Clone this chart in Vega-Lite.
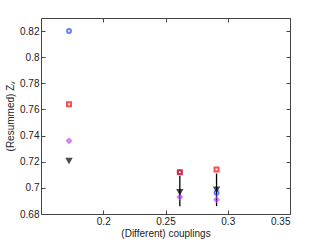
{
  "$schema": "https://vega.github.io/schema/vega-lite/v6.json",
  "width": 249,
  "height": 196,
  "autosize": "none",
  "padding": {"left": 41, "top": 18, "right": 31, "bottom": 28},
  "config": {
    "view": {"stroke": null},
    "font": "Liberation Sans",
    "axis": {
      "grid": false,
      "domainColor": "#444",
      "tickColor": "#444",
      "tickSize": -4,
      "labelColor": "#222",
      "labelFontSize": 10,
      "titleFontSize": 10,
      "titleFontWeight": "normal",
      "titleColor": "#222"
    }
  },
  "datasets": {
    "pts": [
      {"x": 0.1725, "y": 0.820, "s": "a"},
      {"x": 0.1725, "y": 0.764, "s": "b"},
      {"x": 0.1725, "y": 0.736, "s": "c"},
      {"x": 0.1725, "y": 0.721, "s": "d"},
      {"x": 0.2615, "y": 0.712, "s": "a"},
      {"x": 0.2615, "y": 0.712, "s": "b"},
      {"x": 0.2615, "y": 0.693, "s": "c"},
      {"x": 0.2615, "y": 0.697, "s": "d"},
      {"x": 0.291, "y": 0.6963, "s": "a"},
      {"x": 0.291, "y": 0.714, "s": "b"},
      {"x": 0.291, "y": 0.691, "s": "c"},
      {"x": 0.291, "y": 0.699, "s": "d"}
    ],
    "err": [
      {"x": 0.2615, "lo": 0.686, "hi": 0.709},
      {"x": 0.291, "lo": 0.686, "hi": 0.711}
    ]
  },
  "resolve": {"axis": {"x": "independent", "y": "independent"}},
  "layer": [
    {
      "data": {"name": "err"},
      "mark": {"type": "rule", "color": "black", "strokeWidth": 1.3},
      "encoding": {
        "x": {"field": "x", "type": "quantitative", "scale": {"domain": [0.15, 0.35], "nice": false},
              "axis": {"orient": "bottom", "values": [0.2, 0.25, 0.3, 0.35], "format": "~g", "title": "(Different) couplings", "labelPadding": 6, "titlePadding": 2}},
        "y": {"field": "lo", "type": "quantitative", "scale": {"domain": [0.68, 0.83], "nice": false, "zero": false},
              "axis": {"orient": "left", "values": [0.68, 0.7, 0.72, 0.74, 0.76, 0.78, 0.8, 0.82], "format": "~g", "title": "(Resummed) Zᵥ", "labelPadding": 6, "titlePadding": 4}},
        "y2": {"field": "hi"}
      }
    },
    {
      "data": {"name": "pts"},
      "mark": {"type": "point", "filled": false, "strokeWidth": 2, "size": 16},
      "encoding": {
        "x": {"field": "x", "type": "quantitative", "axis": {"orient": "top", "values": [0.2, 0.25, 0.3, 0.35], "labels": false, "title": null}},
        "y": {"field": "y", "type": "quantitative", "axis": {"orient": "right", "values": [0.68, 0.7, 0.72, 0.74, 0.76, 0.78, 0.8, 0.82], "labels": false, "title": null}},
        "shape": {"field": "s", "type": "nominal", "legend": null,
                  "scale": {"domain": ["a", "b", "c", "d"], "range": ["circle", "square", "diamond", "triangle-down"]}},
        "color": {"field": "s", "type": "nominal", "legend": null,
                  "scale": {"domain": ["a", "b", "c", "d"], "range": ["#2a4bff", "#ff0000", "#c040ff", "#000000"]}}
      }
    }
  ]
}
